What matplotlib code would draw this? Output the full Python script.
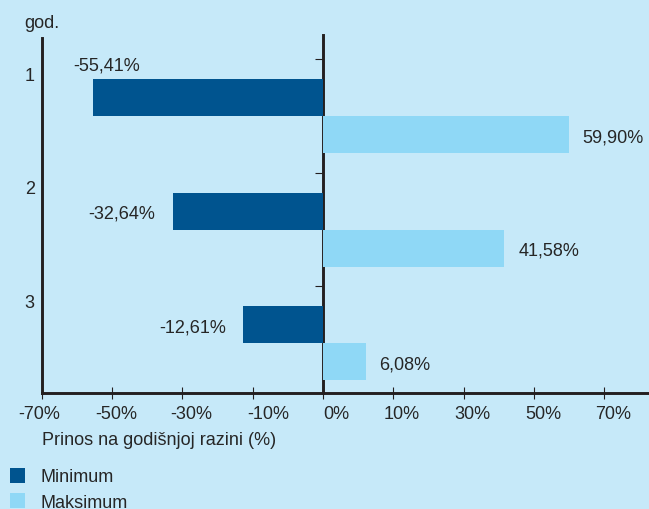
import numpy as np
import matplotlib
matplotlib.use('Agg')
import matplotlib.pyplot as plt
from matplotlib.transforms import ScaledTranslation

# ---------------- data ----------------
categories = ['1', '2', '3']
minimum = [-55.41, -32.64, -12.61]
maximum = [59.90, 41.58, 6.08]
min_labels = ['-55,41%', '-32,64%', '-12,61%']
max_labels = ['59,90%', '41,58%', '6,08%']
xtick_values = [-70, -50, -30, -10, 0, 10, 30, 50, 70]
xtick_labels = ['-70%', '-50%', '-30%', '-10%', '0%', '10%', '30%', '50%', '70%']
series_names = ['Minimum', 'Maksimum']
y_title = 'god.'
x_title = 'Prinos na godišnjoj razini (%)'

# ---------------- style ----------------
BG = '#c6e9f9'
DARK = '#00548f'
LIGHT = '#8fd8f6'
INK = '#231f20'
TXT = '#262626'
xtick_label_shift_px = [-2, 4, 9.5, 15.5, 13.5, 8.5, 9, 9, 9]

plt.rcParams['font.family'] = ['Liberation Sans', 'DejaVu Sans']
plt.rcParams['font.size'] = 13


# broken scale: 1:1 within +-10 %, half-scale beyond
def fwd(v):
    v = np.asarray(v, dtype=float)
    a = np.abs(v)
    return np.where(a <= 10, v, np.sign(v) * (10 + (a - 10) / 2))


def inv(u):
    u = np.asarray(u, dtype=float)
    a = np.abs(u)
    return np.where(a <= 10, u, np.sign(u) * (10 + (a - 10) * 2))


W, H = 649, 510
fig = plt.figure(figsize=(W / 100, H / 100), dpi=100, facecolor=BG)
left_px, right_px, top_px, bottom_px = 41.5, 649, 36, 394
ax = fig.add_axes([left_px / W, 1 - bottom_px / H,
                   (right_px - left_px) / W, (bottom_px - top_px) / H])
ax.set_facecolor(BG)
ax.set_xscale('function', functions=(fwd, inv))
ax.set_xlim(-70, 82.7)

idx = np.arange(len(categories))
h = 0.326
ax.set_ylim(2.4405, -0.7137)

b1 = ax.barh(idx - h / 2, minimum, height=h, color=DARK, linewidth=0,
             label=series_names[0])
b2 = ax.barh(idx + h / 2, maximum, height=h, color=LIGHT, linewidth=0,
             label=series_names[1])

# spines
for s in ['top', 'right']:
    ax.spines[s].set_visible(False)
for s in ['left', 'bottom']:
    ax.spines[s].set_linewidth(2.1)
    ax.spines[s].set_color(INK)
ax.spines['left'].set_bounds(-0.6873, 2.4405)

# zero line with category tick marks
zero_loc = (fwd(0) - fwd(-70)) / (fwd(82.7) - fwd(-70))
sec = ax.secondary_yaxis(float(zero_loc))
sec.spines['left'].set_linewidth(2.1)
sec.spines['left'].set_color(INK)
sec.set_yticks(idx - 0.5)
sec.tick_params(axis='y', direction='out', length=6, width=0.8, color=INK,
                labelleft=False, labelright=False)

# y category labels
ax.set_yticks([])
for i, cat in enumerate(categories):
    ax.annotate(cat, xy=(0, i - 0.5), xycoords=('axes fraction', 'data'),
                xytext=(-4.8, -10), textcoords='offset points',
                ha='right', va='center_baseline', color=TXT)

# x ticks
ax.set_xticks(xtick_values, xtick_labels)
ax.minorticks_off()
ax.tick_params(axis='x', direction='inout', length=8, width=0.8, color=INK,
               pad=4.3, labelcolor=TXT, labelsize=13)
for tick, dx in zip(ax.xaxis.get_major_ticks(), xtick_label_shift_px):
    lab = tick.label1
    lab.set_transform(lab.get_transform() +
                      ScaledTranslation(dx / 100, 0, fig.dpi_scale_trans))

# value labels
for i, (v, txt) in enumerate(zip(minimum, min_labels)):
    y = idx[i] - h / 2
    if v < -50:
        ax.annotate(txt, xy=(v, y - h / 2), xytext=(10, 6.7),
                    textcoords='offset points', ha='center', va='baseline',
                    color=TXT)
    else:
        ax.annotate(txt, xy=(v, y), xytext=(-12.5, 0),
                    textcoords='offset points', ha='right',
                    va='center_baseline', color=TXT)
for i, (v, txt) in enumerate(zip(maximum, max_labels)):
    y = idx[i] + h / 2
    ax.annotate(txt, xy=(v, y), xytext=(10, 0), textcoords='offset points',
                ha='left', va='center_baseline', color=TXT)

# titles
ax.annotate(y_title, xy=(0, 1), xycoords='axes fraction', xytext=(-12.6, 5.5),
            textcoords='offset points', ha='left', va='baseline', color=TXT)
ax.annotate(x_title, xy=(0, 0), xycoords='axes fraction', xytext=(0.3, -36.7),
            textcoords='offset points', ha='left', va='baseline', color=TXT)

# legend
fig.legend(handles=[b1, b2], labels=series_names, loc='upper left',
           bbox_to_anchor=(10 / W, 1 - 468.6 / H),
           bbox_transform=fig.transFigure, frameon=False, borderpad=0,
           borderaxespad=0, handlelength=0.83, handleheight=0.901,
           handletextpad=0.886, labelspacing=0.415, fontsize=13,
           labelcolor=TXT)

fig.savefig('out.png', dpi=100, facecolor=BG)
